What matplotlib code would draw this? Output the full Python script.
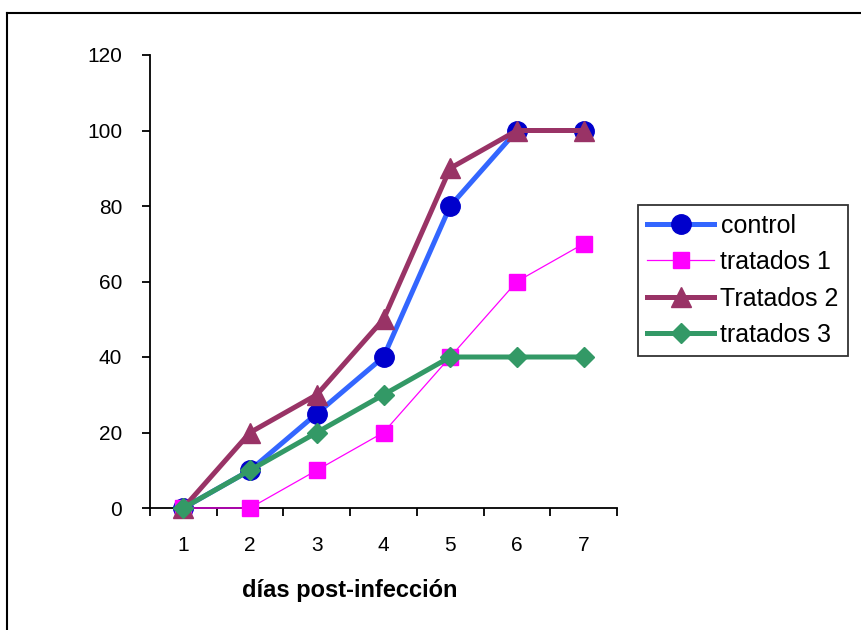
import matplotlib.pyplot as plt
from matplotlib.lines import Line2D

plt.rcParams['font.family'] = ['Liberation Sans', 'DejaVu Sans']

dias = [1, 2, 3, 4, 5, 6, 7]
control = [0, 10, 25, 40, 80, 100, 100]
tratados_1 = [0, 0, 10, 20, 40, 60, 70]
tratados_2 = [0, 20, 30, 50, 90, 100, 100]
tratados_3 = [0, 10, 20, 30, 40, 40, 40]

fig = plt.figure(figsize=(8.61, 6.30), dpi=100)
ax = fig.add_axes([150 / 861, 122 / 630, 467 / 861, 453 / 630])

# outer chart frame (only left and top edges fit on the page)
fig.add_artist(Line2D([7 / 861, 7 / 861], [0, 1 - 13 / 630], color='black', lw=1.5,
                      transform=fig.transFigure))
fig.add_artist(Line2D([7 / 861, 1], [1 - 13 / 630, 1 - 13 / 630], color='black', lw=1.5,
                      transform=fig.transFigure))

ax.plot(dias, control, color='#3366FF', lw=3.6, marker='o', markersize=14,
        markerfacecolor='#0000CC', markeredgecolor='#0000CC', label='control', zorder=3)
ax.plot(dias, tratados_1, color='#FF00FF', lw=0.9, marker='s', markersize=11,
        markerfacecolor='#FF00FF', markeredgecolor='#FF00FF', label='tratados 1', zorder=4)
ax.plot(dias, tratados_2, color='#993366', lw=3.6, marker='^', markersize=15,
        markerfacecolor='#993366', markeredgecolor='#993366', label='Tratados 2', zorder=5)
ax.plot(dias, tratados_3, color='#339966', lw=3.6, marker='D', markersize=10,
        markerfacecolor='#339966', markeredgecolor='#339966', label='tratados 3', zorder=6)

ax.set_xlim(0.5, 7.5)
ax.set_ylim(0, 120)
ax.set_yticks(range(0, 121, 20))
ax.set_xticks(dias)
ax.set_xticks([d + 0.5 for d in range(0, 8)], minor=True)
ax.tick_params(axis='x', which='major', length=0, pad=20, labelsize=15)
ax.tick_params(axis='x', which='minor', length=6, width=1.3, direction='out')
ax.tick_params(axis='y', length=6, width=1.3, direction='out', pad=14, labelsize=15)
for s in ['top', 'right']:
    ax.spines[s].set_visible(False)
for s in ['left', 'bottom']:
    ax.spines[s].set_linewidth(1.3)
for line in ax.lines:
    line.set_clip_on(False)

fig.text(350 / 861, 1 - 590 / 630, 'días post-infección', ha='center', va='center',
         fontsize=17, fontweight='bold')

leg = fig.legend(loc='upper left', bbox_to_anchor=(638 / 861, 1 - 205 / 630),
                 frameon=True, fancybox=False, edgecolor='black', fontsize=18,
                 handlelength=2.7, handletextpad=0.25, labelspacing=0.5,
                 borderpad=0.35, borderaxespad=0)
leg.get_frame().set_linewidth(1.3)

fig.savefig('out.png', dpi=100)
